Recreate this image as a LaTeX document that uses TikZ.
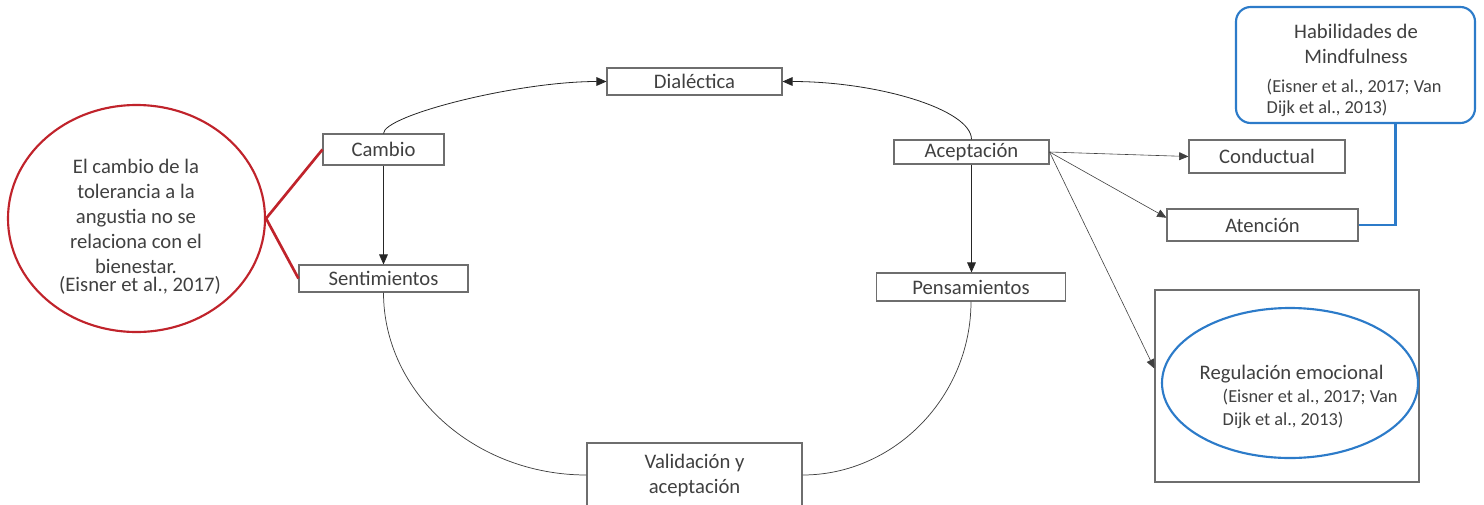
\documentclass[tikz,border=0pt]{standalone}
\usepackage{fontspec}
\setmainfont{Carlito}
\usetikzlibrary{arrows.meta,calc,shapes.geometric}
\definecolor{inkgray}{HTML}{404040}
\definecolor{framegray}{HTML}{6E6E6E}
\definecolor{notered}{HTML}{C0232B}
\definecolor{skillblue}{HTML}{2C7BC9}

\begin{document}
\begin{tikzpicture}[x=0.75pt,y=-0.75pt,
  every node/.style={font=\fontsize{15.5pt}{18.75pt}\selectfont, text=inkgray},
  citetext/.style={font=\fontsize{13.75pt}{16pt}\selectfont, text=inkgray},
  labelbox/.style 2 args={draw=framegray, line width=0.8pt, inner sep=0pt,
    minimum width=#1*0.75pt, minimum height=#2*0.75pt, align=center},
  ovalshape/.style 2 args={ellipse, inner sep=0pt,
    minimum width=#1*0.75pt, minimum height=#2*0.75pt},
  arr/.style={-{Triangle[length=7.5pt,width=6.5pt]}, line width=0.6pt, draw=black!85},
  thinarr/.style={-{Triangle[length=7pt,width=6pt]}, line width=0.45pt, draw=black!75},
  curveline/.style={line width=0.55pt, draw=black!75},
  redline/.style={draw=notered, line width=2pt},
  blueline/.style={draw=skillblue, line width=2.2pt}]

\useasboundingbox (0,0) rectangle (1484,504);

% central cycle
\node[labelbox={175}{27}] (dial) at (694.5,81.5) {Dialéctica};
\node[labelbox={121}{31}] (cambio) at (383.5,149.5) {Cambio};
\node[labelbox={169}{27}] (sent) at (383.5,278.5) {Sentimientos};
\node[labelbox={155}{24}] (acep) at (971.5,152) {Aceptación};
\node[labelbox={189}{28}] (pens) at (971,287) {Pensamientos};
\node[labelbox={215}{64}] (valid) at (694.5,475) {Validación y\\aceptación};

% branches of acceptance
\node[labelbox={156}{33}] (cond) at (1267,156.5) {Conductual};
\node[labelbox={191}{32}] (aten) at (1262.5,225) {Atención};
\node[labelbox={264}{192}] (regbox) at (1287,386) {};
\node[ovalshape={256}{150}, draw=skillblue, line width=1.6pt] (regell) at (1290,383) {};
\node[anchor=mid west] (reg-1) at (1195,376) {Regulación emocional};
\node[citetext, anchor=mid west] (reg-2) at (1218,399) {(Eisner et al., 2017; Van};
\node[citetext, anchor=mid west] (reg-3) at (1218,422) {Dijk et al., 2013)};

% mindfulness skills
\node[draw=skillblue, line width=1.6pt, rounded corners=11pt, inner sep=0pt,
  minimum width=239*0.75pt, minimum height=116*0.75pt] (hab) at (1355.5,65) {};
\node[anchor=mid] (hab-1) at (1356,35) {Habilidades de};
\node[anchor=mid] (hab-2) at (1356,60) {Mindfulness};
\node[citetext, anchor=mid west] (hab-3) at (1262,89) {(Eisner et al., 2017; Van};
\node[citetext, anchor=mid west] (hab-4) at (1262,110) {Dijk et al., 2013)};

% note on distress tolerance
\node[ovalshape={257}{227}, draw=notered, line width=1.6pt] (nota) at (136.5,218.5) {};
\foreach \t [count=\i] in {El cambio de la, tolerancia a la, angustia no se,
    relaciona con el, bienestar.}
  \node[anchor=mid] (nota-\i) at (136,{170+25*(\i-1)}) {\t};
\node[anchor=mid] (nota-6) at (140,288) {(Eisner et al., 2017)};

% connectors of the cycle
\draw[arr] (cambio.north) .. controls +(0,-18) and +(-90,0) .. (dial.west);
\draw[arr] (acep.north) .. controls +(0,-30) and +(95,0) .. (dial.east);
\draw[arr] (cambio.south) -- (sent.north);
\draw[arr] (acep.south) -- (acep.south |- pens.north);
\draw[curveline] (sent.south) .. controls +(0,100) and +(-112,0) .. (valid.west);
\draw[curveline] (pens.south) .. controls +(0,95) and +(92,0) .. (valid.east);

% connectors from acceptance
\draw[thinarr] (acep.east) -- (cond.west);
\draw[thinarr] (acep.east) -- ($(aten.north west)!0.28!(aten.south west)$);
\draw[thinarr] (acep.east) -- ($(regbox.north west)!0.41!(regbox.south west)$);

% highlighted links
\draw[blueline] (aten.east) -| ([xshift=30pt]hab.south);
\draw[redline] (nota.east) -- (cambio.west);
\draw[redline] (nota.east) -- (sent.west);
\end{tikzpicture}
\end{document}
